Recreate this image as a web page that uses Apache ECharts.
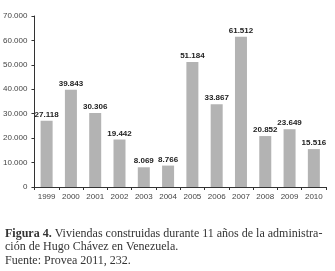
<!DOCTYPE html>
<html>
<head>
<meta charset="utf-8">
<script src="https://cdn.jsdelivr.net/npm/echarts@6/dist/echarts.min.js"></script>
<style>
  html, body { margin: 0; padding: 0; background: #fff; }
  #chart { width: 335px; height: 271px; }
</style>
</head>
<body>
<div id="chart"></div>
<script>
var years = ["1999", "2000", "2001", "2002", "2003", "2004", "2005", "2006", "2007", "2008", "2009", "2010"];
var viviendas = [27118, 39843, 30306, 19442, 8069, 8766, 51184, 33867, 61512, 20852, 23649, 15516];
var yTicks = [0, 10000, 20000, 30000, 40000, 50000, 60000, 70000];

// miles con punto
var fmt = function (v) {
  return String(v).replace(/\B(?=(\d{3})+(?!\d))/g, ".");
};

var chart = echarts.init(document.getElementById("chart"));
chart.setOption({
  animation: false,
  textStyle: { fontFamily: "Liberation Sans Narrow, Liberation Sans, sans-serif" },
  grid: { left: 34, right: 9, top: 16, bottom: 84 },
  xAxis: {
    type: "category",
    data: years,
    axisLine: { lineStyle: { color: "#333", width: 1 } },
    axisTick: { show: true, alignWithLabel: false, length: 3, lineStyle: { color: "#333" } },
    axisLabel: { color: "#444", fontSize: 8, margin: 6 }
  },
  yAxis: {
    type: "value",
    min: yTicks[0],
    max: yTicks[yTicks.length - 1],
    interval: 10000,
    splitLine: { show: false },
    axisLine: { show: true, lineStyle: { color: "#333", width: 1 } },
    axisTick: { show: true, length: 3, lineStyle: { color: "#333" } },
    axisLabel: { color: "#444", fontSize: 8, margin: 7, formatter: fmt }
  },
  series: [{
    type: "bar",
    data: viviendas,
    barWidth: 12,
    itemStyle: { color: "#b3b3b3" },
    label: {
      show: true,
      position: "top",
      distance: 2,
      color: "#222",
      fontSize: 8,
      fontWeight: "bold",
      formatter: function (p) { return fmt(p.value); }
    }
  }],
  graphic: [
    {
      type: "text",
      left: 5,
      top: 227,
      style: {
        text: "{b|Figura 4.} Viviendas construidas durante 11 años de la administra-\nción de Hugo Chávez en Venezuela.",
        fill: "#333",
        font: "12px Liberation Serif",
        lineHeight: 13,
        rich: {
          b: { font: "bold 12px Liberation Serif", fill: "#333" }
        }
      }
    },
    {
      type: "text",
      left: 5,
      top: 255,
      style: {
        text: "Fuente: Provea 2011, 232.",
        fill: "#333",
        font: "12px Liberation Serif"
      }
    }
  ]
});
</script>
</body>
</html>
